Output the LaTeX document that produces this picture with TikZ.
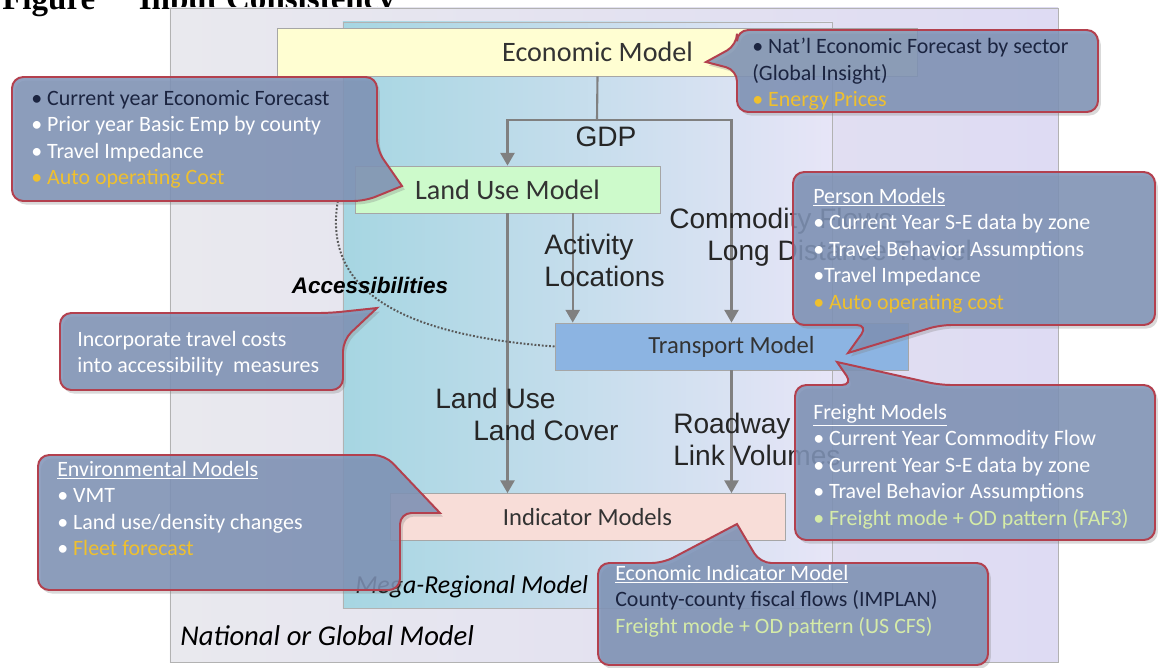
\documentclass[tikz,border=0pt]{standalone}
\usepackage{fontspec}
\setmainfont{Carlito}
\newfontfamily\arialfont{Liberation Sans}
\newfontfamily\titlefont{Liberation Serif}
\usetikzlibrary{arrows.meta,shadows}

\definecolor{natleft}{HTML}{E9E9EE}
\definecolor{natright}{HTML}{DEDBF3}
\definecolor{megaleft}{HTML}{A6D6E2}
\definecolor{megaright}{HTML}{E7E5F7}
\definecolor{ecofill}{HTML}{FFFED2}
\definecolor{landfill}{HTML}{CDFACB}
\definecolor{transfill}{HTML}{8CB4E2}
\definecolor{indfill}{HTML}{F8DDD8}
\definecolor{flowgray}{HTML}{808080}
\definecolor{calfill}{HTML}{7E92B6}
\definecolor{calline}{HTML}{B3404E}
\definecolor{navytext}{HTML}{1B2440}
\definecolor{goldtext}{HTML}{EFC02E}
\definecolor{greentext}{HTML}{D5EBA8}

\tikzset{
  model/.style={draw=gray!70, line width=0.6pt, text=black!80, inner sep=0pt},
  flow/.style={draw=flowgray, line width=1.5pt, -{Triangle[width=10pt,length=9pt]}},
  flowlabel/.style={font=\arialfont\fontsize{20}{22.4}\selectfont, text=black!85, inner sep=0pt, align=left, anchor=north west},
  callout/.style={fill=calfill, fill opacity=0.85, draw=calline, line width=1.4pt, rounded corners=8pt,
    drop shadow={shadow xshift=2pt, shadow yshift=-2.5pt, opacity=0.3}},
  calltext/.style={font=\fontsize{15.6}{18.8}\selectfont, text=white, align=left, inner sep=0pt, anchor=north west},
}

\begin{document}
\begin{tikzpicture}[x=0.025cm,y=-0.025cm]
  \useasboundingbox (0,0) rectangle (1160,667);

  % cropped figure title
  \node[font=\titlefont\bfseries\fontsize{23.5}{26}\selectfont, anchor=base west, inner sep=0pt] (figTitle) at (2,9) {Figure\hspace{31pt}Input Consistency};

  % nested model areas
  \node[draw=gray!60, line width=0.5pt, left color=natleft, right color=natright, minimum width=22.2cm, minimum height=16.35cm, inner sep=0pt] (natBox) at (614,335) {};
  \node[draw=gray!60, line width=0.5pt, left color=megaleft, right color=megaright, minimum width=12.225cm, minimum height=14.65cm, inner sep=0pt] (megaBox) at (587.5,315) {};

  % model boxes
  \node[model, fill=ecofill, minimum width=15.975cm, minimum height=1.2cm, font=\fontsize{20}{24}\selectfont] (eco) at (597.5,52) {Economic Model};
  \node[model, fill=landfill, minimum width=7.625cm, minimum height=1.175cm, font=\fontsize{20}{24}\selectfont] (land) at (507.5,189.5) {Land Use Model};
  \node[model, fill=transfill, minimum width=8.825cm, minimum height=1.175cm, font=\fontsize{17.5}{21}\selectfont] (trans) at (731.5,346.5) {Transport Model};
  \node[model, fill=indfill, minimum width=9.875cm, minimum height=1.175cm, font=\fontsize{17.5}{21}\selectfont] (ind) at (587.5,517) {Indicator Models};

  % flows between models
  \coordinate (gdpSplit) at (597,120);
  \draw[flow, -] (eco.south) -- (gdpSplit);
  \draw[flow] (gdpSplit) -| (land.north);
  \draw[flow] (gdpSplit) -| (trans.north);
  \draw[flow] ([xshift=1.63cm]land.south) -- ([xshift=1.63cm]land.south |- trans.north);
  \draw[flow] (land.south) -- (land.south |- ind.north);
  \draw[flow] (trans.south) -- (trans.south |- ind.north);

  % flow labels
  \node[flowlabel, anchor=base] (gdpLbl) at (606,146) {GDP};
  \node[flowlabel] (actLbl) at (544,234) {Activity\\Locations};
  \node[flowlabel] (comLbl) at (669,208) {Commodity Flows\\\hspace{27pt}Long Distance Travel};
  \node[flowlabel] (luLbl) at (435,388) {Land Use\\\hspace{27pt}Land Cover};
  \node[flowlabel] (rdLbl) at (673,413) {Roadway\\Link Volumes};

  % accessibilities feedback
  \coordinate (accEnd) at (338,200);
  \draw[gray!70!black, line width=1.4pt, dash pattern=on 1.3pt off 1.3pt] (trans.west) .. controls (400,335) and (322,290) .. (accEnd);
  \node[font=\arialfont\bfseries\itshape\fontsize{16}{18}\selectfont, anchor=base, inner sep=0pt] (accLbl) at (370,293) {Accessibilities};

  % area labels
  \node[font=\itshape\fontsize{18.4}{22}\selectfont, anchor=base west, inner sep=0pt] (megaLbl) at (355,593) {Mega-Regional Model};
  \node[font=\itshape\fontsize{20.4}{24}\selectfont, anchor=base west, inner sep=0pt] (natLbl) at (180,645) {National or Global Model};

  % callouts
  \path[callout] (402,186) -- (365,201) -- (12,201) -- (12,77) -- (377,77) -- (377,150) [sharp corners] -- cycle;
  \node[calltext] (ecoIn) at (31,90) {\textcolor{navytext}{• Current year Economic Forecast}\\• Prior year Basic Emp by county\\• Travel Impedance\\\textcolor{goldtext}{• Auto operating Cost}};

  \path[callout] (706,62) -- (737,70) -- (737,112) -- (1098,112) -- (1098,30) -- (737,30) -- (737,45) [sharp corners] -- cycle;
  \node[calltext, text=navytext] (natIn) at (752,38) {• Nat’l Economic Forecast by sector\\(Global Insight)\\\textcolor{goldtext}{• Energy Prices}};

  \path[callout] (848,353) -- (868,325) -- (793,325) -- (793,172) -- (1155,172) -- (1155,325) -- (940,325) [sharp corners] -- cycle;
  \node[calltext] (personIn) at (813,188) {\underline{Person Models}\\• Current Year S-E data by zone\\• Travel Behavior Assumptions\\•Travel Impedance\\\textcolor{goldtext}{• Auto operating cost}};

  \path[callout] (837,362) -- (940,385) -- (1155,385) -- (1155,540) -- (795,540) -- (795,385) -- (853,385) [sharp corners] -- cycle;
  \node[calltext] (freightIn) at (813,404) {\underline{Freight Models}\\• Current Year Commodity Flow\\• Current Year S-E data by zone\\• Travel Behavior Assumptions\\\textcolor{greentext}{• Freight mode + OD pattern (FAF3)}};

  \path[callout] (377,308) -- (343,340) -- (343,390) -- (60,390) -- (60,313) -- (330,313) [sharp corners] -- cycle;
  \node[calltext] (accIn) at (77,331) {Incorporate travel costs\\into accessibility\ \ measures};

  \path[callout] (440,513) -- (400,513) -- (400,590) -- (38,590) -- (38,455) -- (385,455) [sharp corners] -- cycle;
  \node[calltext] (envIn) at (57,461) {\underline{Environmental Models}\\• VMT\\• Land use/density changes\\• \textcolor{goldtext}{Fleet forecast}};

  \path[callout] (737,524) -- (760,563) -- (988,563) -- (988,665) -- (598,665) -- (598,563) -- (663,563) [sharp corners] -- cycle;
  \node[calltext] (indIn) at (615,565) {\underline{Economic Indicator Model}\\\textcolor{navytext}{County-county fiscal flows (IMPLAN)}\\\textcolor{greentext}{Freight mode + OD pattern (US CFS)}};
\end{tikzpicture}
\end{document}
